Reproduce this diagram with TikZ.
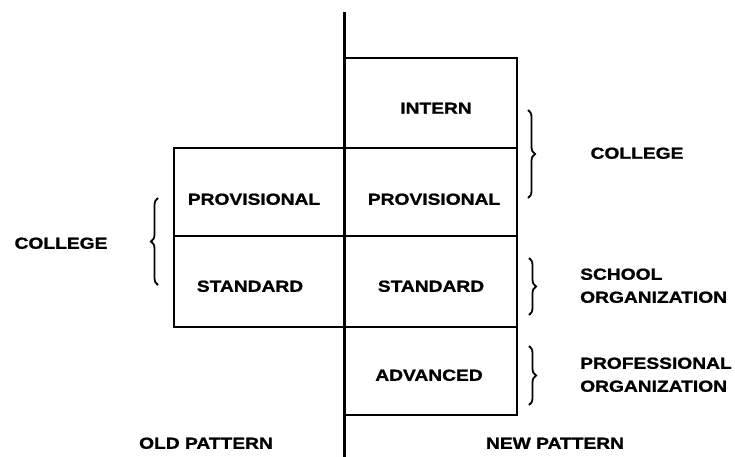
\documentclass[tikz,border=0pt]{standalone}
\usepackage{fontspec}
\setmainfont{Liberation Sans}[FakeStretch=1.2,BoldFeatures={FakeBold=1.2}]
\usetikzlibrary{decorations.pathreplacing}
\begin{document}
\begin{tikzpicture}[x=1pt,y=1pt,
  grid/.style={line width=2.8pt,line join=miter,line cap=rect},
  lbl/.style={inner sep=0pt,text height=11.5pt,text depth=0pt,
    font=\fontsize{16}{19}\selectfont\bfseries},
  brc/.style={decorate,decoration={brace,amplitude=7pt},line width=1.8pt}]
\useasboundingbox (0,0) rectangle (735,-457);
% grid
\draw[grid] (344.5,-13) -- (344.5,-457);
\draw[grid] (344.5,-58) -- (517,-58) -- (517,-415) -- (344.5,-415);
\draw[grid] (174,-148) rectangle (517,-327);
\draw[grid] (174,-236) -- (517,-236);
% cell texts
\node[lbl] (intern) at (436,-108) {INTERN};
\node[lbl] (provL) at (254,-199) {PROVISIONAL};
\node[lbl] (provR) at (434,-199) {PROVISIONAL};
\node[lbl] (stdL) at (250,-286) {STANDARD};
\node[lbl] (stdR) at (431,-286) {STANDARD};
\node[lbl] (adv) at (429,-375) {ADVANCED};
% side labels
\node[lbl] (colL) at (61,-243) {COLLEGE};
\node[lbl] (colR) at (637,-153) {COLLEGE};
\node[lbl,anchor=west] (school) at (580,-274) {SCHOOL};
\node[lbl,anchor=west] (schorg) at (580,-297) {ORGANIZATION};
\node[lbl,anchor=west] (prof) at (580,-363) {PROFESSIONAL};
\node[lbl,anchor=west] (proforg) at (580,-386) {ORGANIZATION};
\node[lbl] (old) at (206,-443) {OLD PATTERN};
\node[lbl] (new) at (555,-443) {NEW PATTERN};
% braces
\coordinate (b1t) at (528,-110); \coordinate (b1b) at (528,-198);
\coordinate (b2t) at (529,-258); \coordinate (b2b) at (529,-315);
\coordinate (b3t) at (529,-346); \coordinate (b3b) at (529,-405);
\coordinate (b4t) at (158,-198); \coordinate (b4b) at (158,-285);
\draw[brc] (b1t) -- (b1b);
\draw[brc] (b2t) -- (b2b);
\draw[brc] (b3t) -- (b3b);
\draw[brc] (b4b) -- (b4t);
\end{tikzpicture}
\end{document}
